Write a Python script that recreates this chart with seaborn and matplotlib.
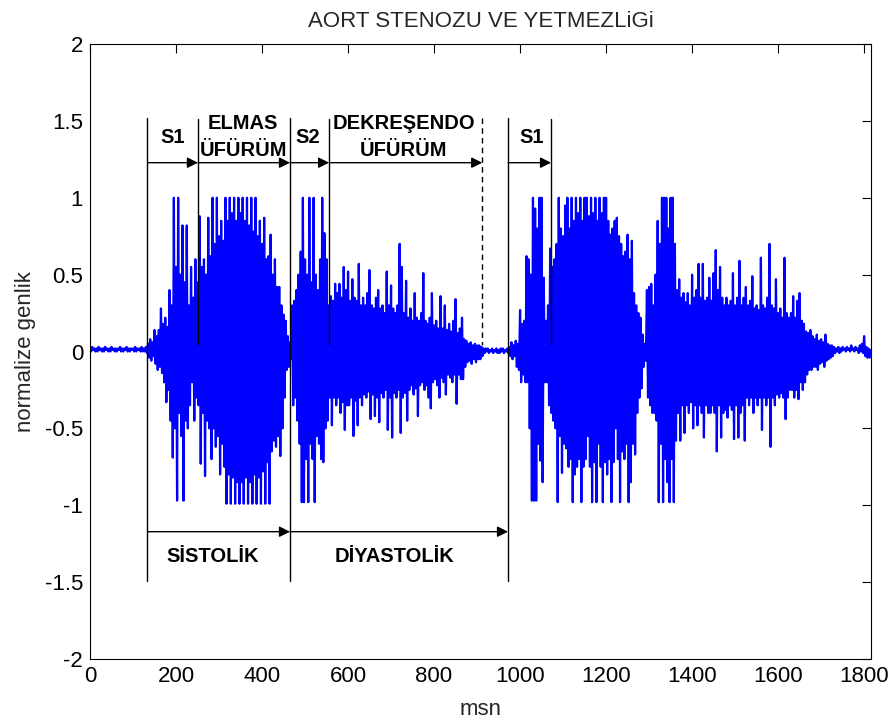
import numpy as np
import pandas as pd
import matplotlib
matplotlib.use("Agg")
import matplotlib.pyplot as plt
import seaborn as sns

# ---------------- data ----------------
sample_ms = 5  # column width of the min/max envelope

upper = [
    .02, .03, .02, .02, .03, .02, .02, .03, .02, .02,
    .03, .02, .02, .02, .03, .02, .02, .03, .02, .02,
    .02, .03, .02, .02, .03, .02, .03, .05, .08, .06,
    .14, .10, .14, .28, .18, .22, .16, .40, .30, 1.0,
    .55, 1.0, .50, .82, .45, .82, .30, .55, .35, .60,
    .45, .88, .55, .60, .50, .87, .62, 1.0, .70, 1.0,
    .75, .85, .72, 1.0, .85, 1.0, .90, 1.0, .85, 1.0,
    .90, 1.0, .85, 1.0, .82, 1.0, .78, 1.0, .75, .85,
    .70, .87, .60, .62, .76, .50, .60, .42, .42, .30,
    .24, .20, .10, .06, .30, .33, .40, .50, .65, 1.0,
    .60, .50, 1.0, .45, 1.0, .50, .40, .60, 1.0, .77,
    .60, .30, .36, .33, .44, .38, .44, .35, .55, .40,
    .52, .33, .47, .35, .33, .57, .30, .35, .30, .38,
    .53, .30, .28, .35, .40, .28, .30, .25, .52, .30,
    .43, .28, .25, .30, .70, .55, .25, .46, .22, .28,
    .20, .38, .22, .20, .25, .51, .20, .18, .22, .38,
    .17, .20, .15, .36, .15, .30, .14, .18, .13, .20,
    .34, .12, .15, .22, .08, .07, .05, .06, .04, .05,
    .04, .04, .03, .02, .02, .02, .01, .02, .01, .02,
    .01, .02, .02, .01, .02, .03, .06, .04, .07, .05,
    .27, .18, .20, .62, .60, .50, 1.0, .93, .80, 1.0,
    1.0, .48, .20, .30, .67, .55, .60, .70, 1.0, .80,
    .75, .95, 1.0, .80, 1.0, .85, 1.0, .90, 1.0, .85,
    1.0, 1.0, .88, 1.0, .90, 1.0, .85, 1.0, .90, 1.0,
    1.0, .85, .76, .80, .85, .87, .75, .70, .62, .65,
    .76, .60, .72, .38, .30, .25, .22, .11, .05, .40,
    .42, .44, .30, .50, .85, .70, 1.0, 1.0, 1.0, .80,
    1.0, 1.0, .70, .40, .47, .35, .38, .32, .38, .30,
    .50, .35, .40, .57, .35, .57, .33, .35, .48, .33,
    .51, .66, .40, .55, .35, .30, .35, .30, .33, .51,
    .30, .35, .59, .30, .35, .42, .30, .33, .49, .28,
    .30, .27, .61, .30, .28, .35, .70, .30, .28, .47,
    .25, .28, .22, .61, .25, .22, .25, .36, .22, .33,
    .38, .20, .18, .13, .12, .14, .10, .08, .11, .07,
    .08, .06, .11, .05, .04, .04, .03, .02, .03, .02,
    .03, .02, .03, .02, .04, .02, .03, .02, .04, .05,
    .10, .03, .02, .01,
]

lower = [
    .00, .01, .00, .00, .01, .00, .00, .01, .00, .00,
    .01, .00, .00, .01, .00, .00, .01, .00, .00, .01,
    .00, .00, .01, .00, .00, .00, -.01, -.04, -.06, -.03,
    -.08, -.12, -.10, -.14, -.20, -.33, -.25, -.45, -.69, -.50,
    -.97, -.40, -.55, -.97, -.45, -.50, -.35, -.20, -.45, -.30,
    -.35, -.73, -.40, -.81, -.45, -.50, -.70, -.50, -.62, -.55,
    -.80, -.60, -.75, -.99, -.80, -.99, -.82, -.99, -.85, -.99,
    -.85, -.99, -.82, -.99, -.85, -.99, -.80, -.99, -.82, -.99,
    -.78, -.99, -.72, -.99, -.65, -.58, -.62, -.55, -.68, -.50,
    -.30, -.12, -.10, -.05, -.35, -.30, -.45, -.60, -.98, -.98,
    -.70, -.98, -.60, -.70, -.98, -.55, -.60, -.70, -.72, -.50,
    -.45, -.30, -.48, -.30, -.35, -.30, -.40, -.33, -.51, -.35,
    -.35, -.30, -.55, -.32, -.48, -.30, -.35, -.28, -.30, -.26,
    -.44, -.28, -.42, -.30, -.46, -.27, -.30, -.25, -.51, -.30,
    -.56, -.27, -.30, -.25, -.53, -.30, -.27, -.45, -.25, -.22,
    -.28, -.24, -.42, -.22, -.20, -.25, -.22, -.30, -.37, -.20,
    -.18, -.22, -.30, -.17, -.20, -.28, -.15, -.17, -.20, -.15,
    -.34, -.15, -.18, -.18, -.10, -.07, -.06, -.08, -.05, -.07,
    -.05, -.05, -.03, -.01, .00, -.01, .00, -.01, .00, -.01,
    -.01, .00, -.01, .00, -.01, -.03, -.05, -.03, -.10, -.12,
    -.20, -.15, -.20, -.20, -.50, -.97, -.97, -.97, -.60, -.71,
    -.85, -.20, -.20, -.35, -.40, -.45, -.50, -.98, -.55, -.79,
    -.60, -.63, -.75, -.70, -.98, -.80, -.75, -.70, -.98, -.75,
    -.70, -.55, -.75, -.98, -.72, -.98, -.60, -.75, -.98, -.72,
    -.80, -.70, -.98, -.72, -.50, -.70, -.98, -.65, -.70, -.60,
    -.98, -.85, -.60, -.67, -.40, -.30, -.24, -.10, -.06, -.30,
    -.35, -.40, -.40, -.45, -.98, -.60, -.98, -.70, -.85, -.98,
    -.70, -.98, -.58, -.40, -.58, -.35, -.53, -.35, -.40, -.33,
    -.50, -.35, -.48, -.35, -.40, -.56, -.35, -.40, -.40, -.35,
    -.40, -.65, -.35, -.56, -.40, -.38, -.43, -.35, -.38, -.57,
    -.35, -.56, -.40, -.35, -.58, -.30, -.35, -.30, -.40, -.30,
    -.35, -.30, -.51, -.30, -.35, -.30, -.62, -.30, -.35, -.28,
    -.30, -.27, -.30, -.44, -.30, -.25, -.25, -.30, -.25, -.31,
    -.20, -.25, -.20, -.15, -.12, -.12, -.10, -.10, -.12, -.08,
    -.07, -.10, -.06, -.05, -.04, -.03, -.01, .00, -.01, .00,
    .01, .00, .01, .00, .01, .00, .01, -.01, .00, -.01,
    -.03, -.04, -.04, -.03,
]

# phase boundaries (ms)
solid_full = [133.7, 465, 972]      # long boundary lines
solid_half = [251, 556, 1072]       # short boundary lines
dashed_half = [912]                 # end of decrescendo murmur
top_arrows = [(133.7, 251), (251, 465), (465, 556), (556, 912), (972, 1072)]
bottom_arrows = [(133.7, 465), (465, 972)]
top_labels = [("S1", 191), ("S2", 507), ("S1", 1027)]
two_line_labels = [("ELMAS", "ÜFÜRÜM", 356), ("DEKREŞENDO", "ÜFÜRÜM", 730)]
bottom_labels = [("SİSTOLİK", 286), ("DİYASTOLİK", 709)]

title = "AORT STENOZU VE YETMEZLiGi"
xlabel = "msn"
ylabel = "normalize genlik"
xticks = [0, 200, 400, 600, 800, 1000, 1200, 1400, 1600, 1800]
yticks = [-2, -1.5, -1, -0.5, 0, 0.5, 1, 1.5, 2]

# ---------------- figure ----------------
sns.set_theme(style="white")
plt.rcParams["font.family"] = ["Liberation Sans", "DejaVu Sans"]
plt.rcParams["axes.unicode_minus"] = False

fig = plt.figure(figsize=(8.92, 7.24), dpi=100)
ax = fig.add_axes([90 / 892, 1 - 659 / 724, (871 - 90) / 892, (659 - 44) / 724])

t = np.arange(len(upper)) * sample_ms
xs = np.empty(2 * len(t))
ys = np.empty(2 * len(t))
xs[0::2] = t
xs[1::2] = t + sample_ms / 2
ys[0::2] = upper
ys[1::2] = lower
df = pd.DataFrame({"msn": xs, "genlik": ys})
sns.lineplot(data=df, x="msn", y="genlik", sort=False, estimator=None,
             color="#0000ff", linewidth=1.6, ax=ax)

# annotations
for x in solid_full:
    ax.plot([x, x], [1.52, -1.49], color="black", lw=1.0)
for x in solid_half:
    ax.plot([x, x], [1.51, 0.05], color="black", lw=1.0)
for x in dashed_half:
    ax.plot([x, x], [1.52, 0.04], color="black", lw=1.0, ls=(0, (4, 3)))

arrow_kw = dict(arrowstyle="-|>", color="black", lw=1.0, mutation_scale=16,
                shrinkA=0, shrinkB=0)
for a, b in top_arrows:
    ax.annotate("", xy=(b, 1.228), xytext=(a, 1.228), arrowprops=arrow_kw)
for a, b in bottom_arrows:
    ax.annotate("", xy=(b, -1.172), xytext=(a, -1.172), arrowprops=arrow_kw)

bold_kw = dict(fontsize=14.5, fontweight="bold", ha="center", va="center", color="black")
for txt, x in top_labels:
    ax.text(x, 1.39, txt, **bold_kw)
for l1, l2, x in two_line_labels:
    ax.text(x, 1.48, l1, **bold_kw)
    ax.text(x, 1.31, l2, **bold_kw)
for txt, x in bottom_labels:
    ax.text(x, -1.335, txt, **bold_kw)

ax.set_xlim(0, 1816)
ax.set_ylim(-2, 2)
ax.set_xticks(xticks)
ax.set_yticks(yticks)
ax.set_yticklabels([f"{v:g}" for v in yticks])
ax.tick_params(direction="in", length=6.5, width=0.8, top=True, right=True,
               labelsize=16, colors="black", pad=5)
for s in ax.spines.values():
    s.set_visible(True)
    s.set_color("black")
    s.set_linewidth(0.8)
ax.set_xlabel(xlabel, fontsize=16, labelpad=9)
ax.set_ylabel(ylabel, fontsize=16, labelpad=6)
ax.set_title(title, fontsize=16, pad=12)

fig.savefig("out.png", dpi=100)
